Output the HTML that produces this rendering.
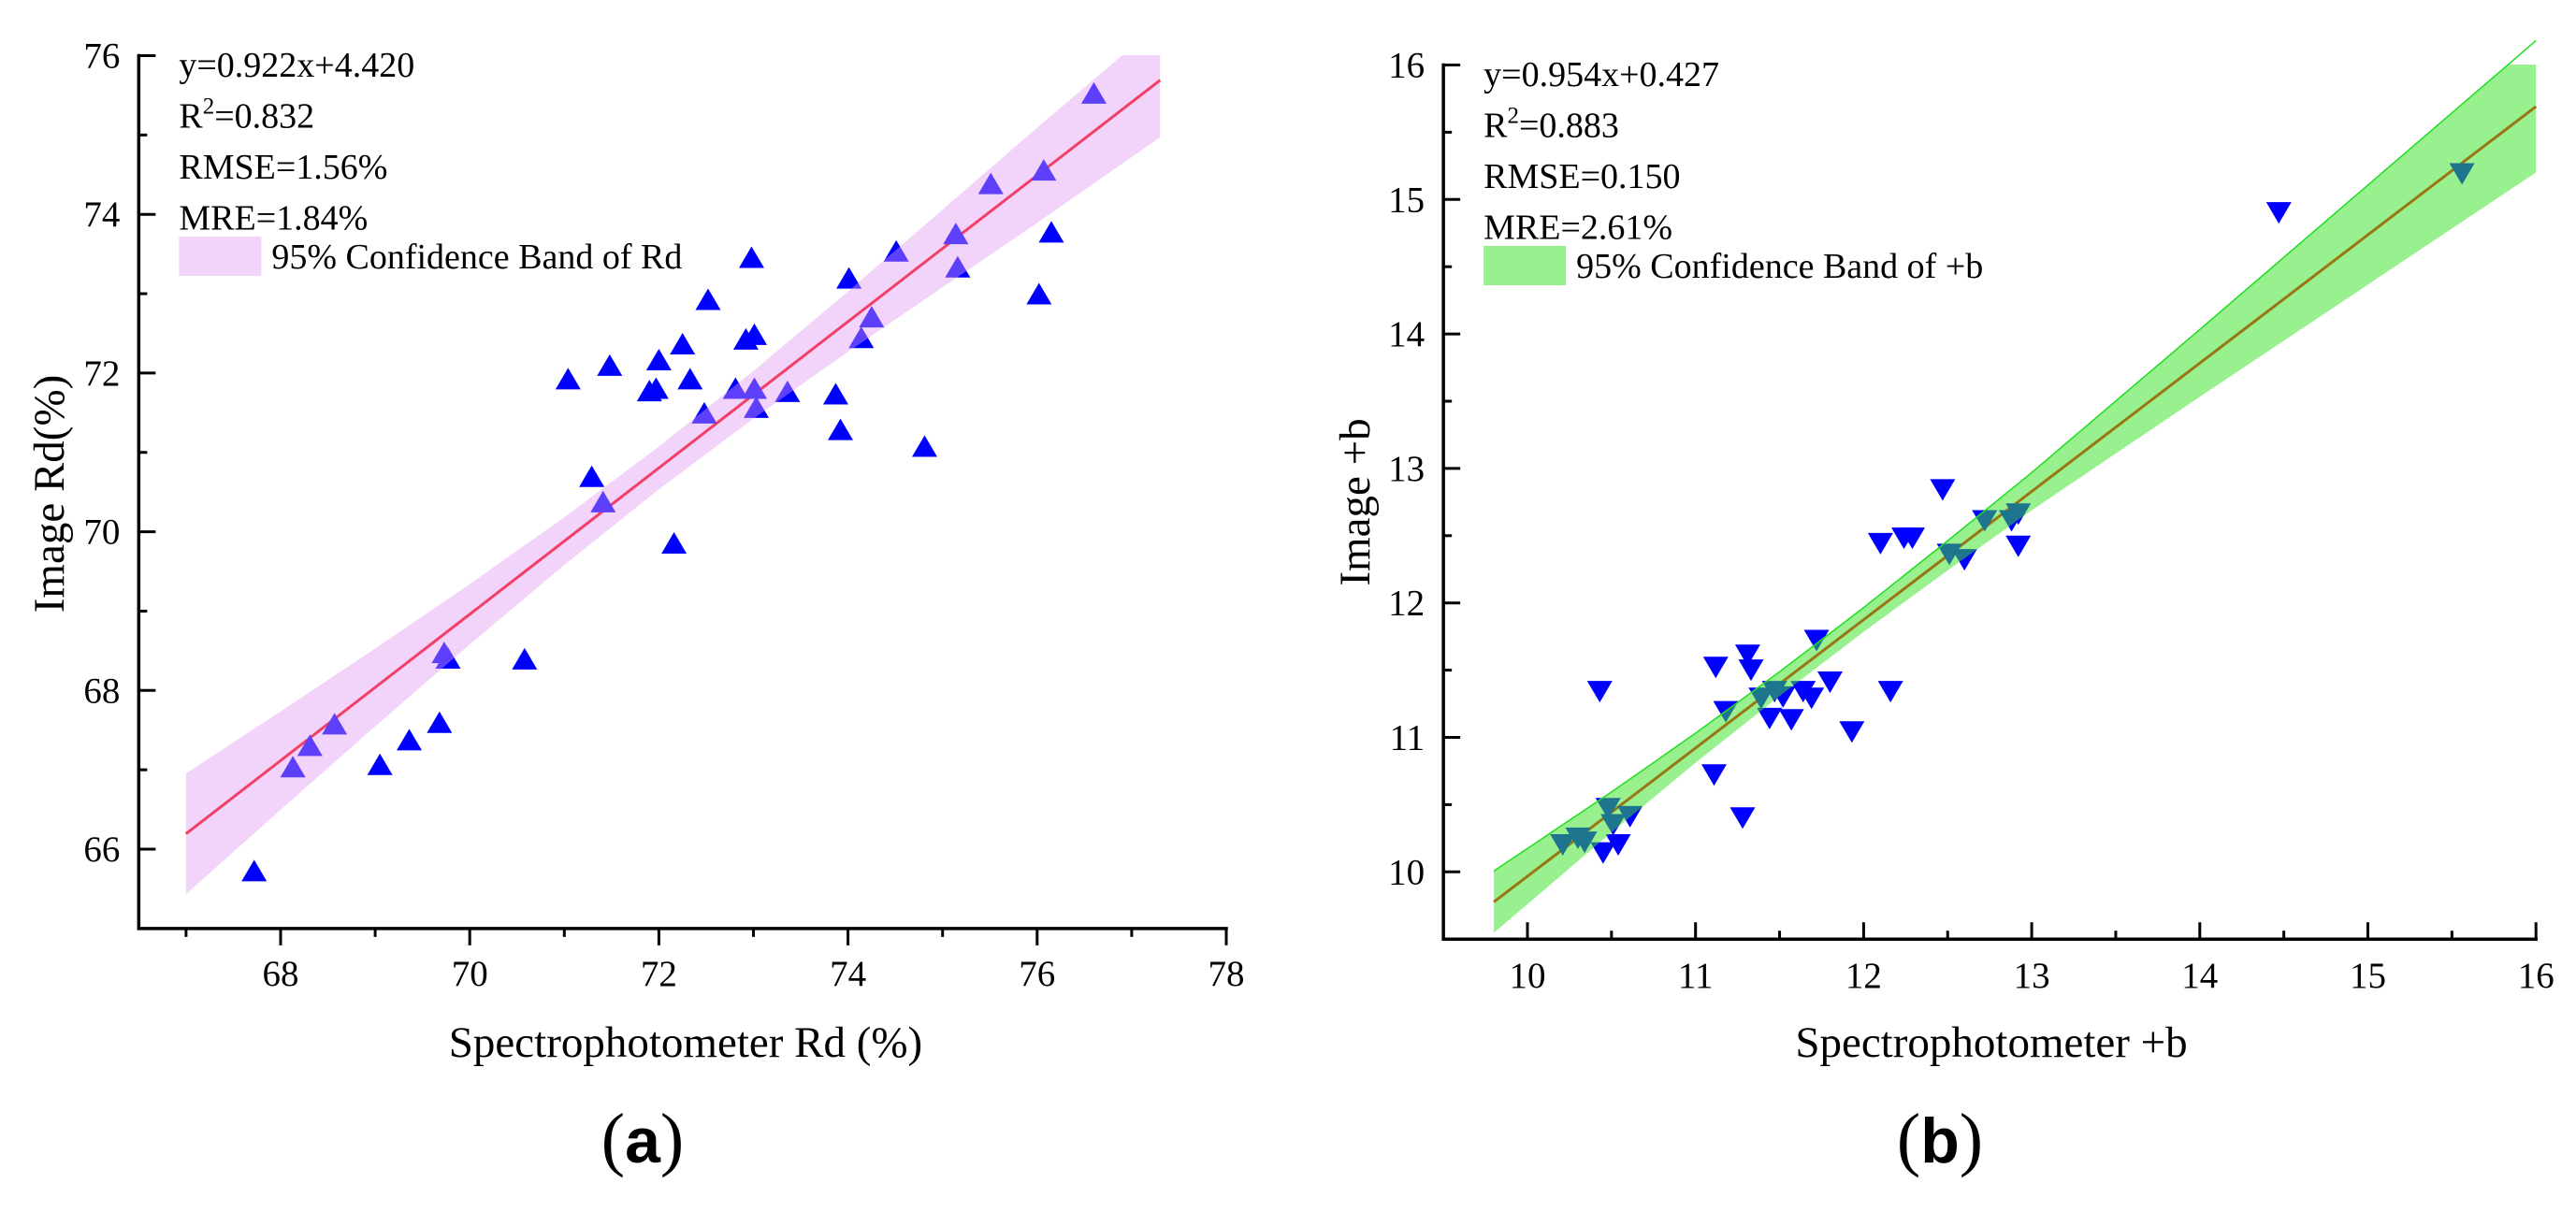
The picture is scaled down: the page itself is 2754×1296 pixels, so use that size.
<!DOCTYPE html>
<html><head><meta charset="utf-8"><style>
html,body{margin:0;padding:0;background:#fff;}
svg{display:block;}
svg text{font-family:"Liberation Serif","DejaVu Serif",serif;}
</style></head><body>
<svg id="fig" width="2754" height="1296" viewBox="0 0 2754 1296" xmlns="http://www.w3.org/2000/svg" font-family="Liberation Serif, serif">
<defs>
<clipPath id="clipA"><rect x="149" y="59" width="1165" height="934"/></clipPath>
<clipPath id="clipB"><rect x="1543" y="69" width="1170" height="936"/></clipPath>
</defs>
<g id="panelA"></g>
<g id="panelB"></g>
</svg>
<script>
// Panel A data
const aX = [67.72,68.13,68.31,68.57,69.05,69.36,69.68,69.73,69.77,70.58,71.04,71.29,71.41,71.48,71.90,71.97,72.00,72.16,72.25,72.33,72.48,72.52,72.81,72.92,72.98,73.01,73.01,73.03,73.36,73.87,73.92,74.01,74.14,74.25,74.51,74.81,75.14,75.16,75.51,76.02,76.07,76.15,76.60];
const aY = [65.73,67.04,67.31,67.58,67.07,67.38,67.60,68.48,68.41,68.40,71.93,70.70,70.38,72.10,71.78,71.81,72.17,69.86,72.37,71.93,71.50,72.93,71.81,72.43,73.46,72.49,71.81,71.57,71.77,71.74,71.29,73.20,72.45,72.71,73.54,71.08,73.76,73.34,74.39,73.00,74.56,73.78,75.53];
const aFit = [0.922, 4.420];
const aBandX = [67,68,69,70,71,72,73,74,75,76,77.3];
const aBandHW = [0.76,0.62,0.49,0.38,0.30,0.27,0.30,0.38,0.49,0.60,0.72];
const aXTicks = [68,70,72,74,76,78];
const aYTicks = [66,68,70,72,74,76];
const aStats = ["y=0.922x+4.420","R2=0.832","RMSE=1.56%","MRE=1.84%"];
// Panel B data
const bX = [10.21,10.30,10.34,10.43,10.45,10.48,10.51,10.54,10.61,11.11,11.12,11.18,11.28,11.31,11.33,11.39,11.44,11.47,11.52,11.57,11.64,11.69,11.72,11.80,11.93,12.10,12.16,12.24,12.29,12.47,12.51,12.60,12.72,12.88,12.92,12.92,14.47,15.56];
const bY = [10.20,10.25,10.22,11.34,10.14,10.47,10.35,10.20,10.41,10.72,11.52,11.19,10.40,11.61,11.50,11.29,11.14,11.34,11.30,11.13,11.34,11.29,11.72,11.41,11.04,12.44,11.34,12.48,12.48,12.84,12.36,12.32,12.61,12.61,12.66,12.42,14.90,15.19];
const bFit = [0.954, 0.427];
const bBandX = [9.8,10.5,11,11.5,12,12.5,13,14,15,16];
const bBandHW = [0.23,0.15,0.11,0.09,0.09,0.11,0.14,0.25,0.37,0.49];
const bXTicks = [10,11,12,13,14,15,16];
const bYTicks = [10,11,12,13,14,15,16];
const bStats = ["y=0.954x+0.427","R2=0.883","RMSE=0.150","MRE=2.61%"];

const NS = "http://www.w3.org/2000/svg";
const SERIF = "Liberation Serif, DejaVu Serif, serif";
function mk(parent, tag, attrs, text){
  const e = document.createElementNS(NS, tag);
  for (const k in attrs) e.setAttribute(k, attrs[k]);
  if (tag === 'text' && !attrs['font-family']) e.setAttribute('font-family', SERIF);
  if (text !== undefined) e.textContent = text;
  parent.appendChild(e);
  return e;
}

function drawPanel(cfg){
  const g = document.getElementById(cfg.id);
  const sx = v => cfg.x0px + (v - cfg.x0v) * cfg.xu;
  const sy = v => cfg.y0px - (v - cfg.y0v) * cfg.yu;
  const L = sx(cfg.xmin), R = sx(cfg.xmax), T = sy(cfg.ymax), B = sy(cfg.ymin);
  const x1 = cfg.bandX[0], x2 = cfg.bandX[cfg.bandX.length-1];
  const line = mk(g, 'line', {x1:sx(x1), y1:sy(cfg.fit[0]*x1+cfg.fit[1]), x2:sx(x2), y2:sy(cfg.fit[0]*x2+cfg.fit[1]), stroke:'#ff0000', 'stroke-width':3});
  
  
  const pts = mk(g, 'g', {});
  
  
  cfg.px.forEach((v, i) => {
    const cx = sx(v), cy = sy(cfg.py[i]);
    const d = cfg.down
      ? `M${cx-13.5},${cy-11.5} L${cx+13.5},${cy-11.5} L${cx},${cy+11.5} Z`
      : `M${cx-13.5},${cy+11.5} L${cx+13.5},${cy+11.5} L${cx},${cy-11.5} Z`;
    const p = mk(pts, 'path', {d:d, fill:'#0000ff'});
    
    
  });
  let up = [], lo = [];
  cfg.bandX.forEach((v, i) => {
    const m = cfg.fit[0]*v + cfg.fit[1];
    up.push(sx(v)+','+sy(m+cfg.bandHW[i]));
    lo.push(sx(v)+','+sy(m-cfg.bandHW[i]));
  });
  const band = mk(g, 'polygon', {points: up.concat(lo.slice().reverse()).join(' '), fill:cfg.bandColor, 'fill-opacity':cfg.bandOp, 'clip-path':'url(#'+cfg.clip+')'});
  
  
  if (cfg.edge){
    const e = mk(g, 'polyline', {points: up.join(' '), fill:'none', stroke:'#22dd22', 'stroke-width':1.5});
    
    
  }
  const ax = mk(g, 'path', {d:`M${L},${T} L${L},${B} L${R},${B}`, fill:'none', stroke:'#000', 'stroke-width':3.5, 'stroke-linecap':'square'});
  
  
  const xdir = cfg.xTickOut ? 1 : -1;
  for (let v = cfg.xminorStart; v <= cfg.xmax + 1e-9; v += cfg.xminor){
    const major = cfg.xTicks.some(t => Math.abs(t - v) < 1e-6);
    const t = mk(g, 'line', {x1:sx(v), y1:B, x2:sx(v), y2:B + xdir*(major?18:9), stroke:'#000', 'stroke-width':3});
    
    
  }
  cfg.xTicks.forEach(v => {
    const t = mk(g, 'text', {x:sx(v), y:cfg.xLabelY, 'font-size':39, 'text-anchor':'middle'}, String(v));
    
    
  });
  for (let v = cfg.yminorStart; v <= cfg.ymax + 1e-9; v += cfg.yminor){
    const major = cfg.yTicks.some(t => Math.abs(t - v) < 1e-6);
    const t = mk(g, 'line', {x1:L, y1:sy(v), x2:L + (major?18:9), y2:sy(v), stroke:'#000', 'stroke-width':3});
    
    
  }
  cfg.yTicks.forEach(v => {
    const t = mk(g, 'text', {x:L-20, y:sy(v)+13, 'font-size':39, 'text-anchor':'end'}, String(v));
    
    
  });
  cfg.stats.forEach((s, i) => {
    const t = mk(g, 'text', {x:L+43, y:cfg.statY + i*54.5, 'font-size':38});
    if (s.startsWith('R2')){
      t.appendChild(document.createTextNode('R'));
      mk(t, 'tspan', {'font-size':25, dy:-15}, '2');
      mk(t, 'tspan', {dy:15}, s.slice(2));
    } else t.textContent = s;
    
    
  });
  const sw = mk(g, 'rect', {x:L+43, y:cfg.statY + 171, width:88, height:42, fill:cfg.bandColor, 'fill-opacity':cfg.bandOp});
  
  
  const lt = mk(g, 'text', {x:L+142, y:cfg.statY + 205, 'font-size':38}, cfg.legend);
  
  
  const xt = mk(g, 'text', {x:cfg.xTitleX, y:1130, 'font-size':47, 'text-anchor':'middle'}, cfg.xTitle);
  
  
  const yt = mk(g, 'text', {x:0, y:0, 'font-size':47, 'text-anchor':'middle', transform:`translate(${cfg.yTitleX},${cfg.yTitleY}) rotate(-90)`}, cfg.yTitle);
  
  
  const pl = mk(g, 'text', {x:cfg.labelX, y:1243, 'font-size':76, 'text-anchor':'middle'});
  mk(pl, 'tspan', {}, '(');
  mk(pl, 'tspan', {'font-weight':'bold', 'font-family':'Liberation Sans, sans-serif', 'font-size':68}, cfg.letter);
  mk(pl, 'tspan', {}, ')');
  
  
}

drawPanel({id:'panelA', clip:'clipA', x0px:300, x0v:68, xu:101.1, y0px:908, y0v:66, yu:84.85,
  xmin:66.5, xmax:78, ymin:65, ymax:76, xminor:1, xminorStart:67, yminor:1, yminorStart:66,
  xTicks:aXTicks, yTicks:aYTicks, xTickOut:true, xLabelY:1054,
  px:aX, py:aY, down:false, fit:aFit, bandX:aBandX, bandHW:aBandHW,
  bandColor:'#e196f2', bandOp:0.42, edge:false, stats:aStats, statY:82,
  legend:'95% Confidence Band of Rd', xTitle:'Spectrophotometer Rd (%)', xTitleX:733,
  yTitle:'Image Rd(%)', yTitleX:68, yTitleY:528, labelX:687, letter:'a'});
drawPanel({id:'panelB', clip:'clipB', x0px:1633, x0v:10, xu:179.7, y0px:932.3, y0v:10, yu:143.8,
  xmin:9.5, xmax:16, ymin:9.5, ymax:16, xminor:0.5, xminorStart:10, yminor:0.5, yminorStart:10,
  xTicks:bXTicks, yTicks:bYTicks, xTickOut:false, xLabelY:1056,
  px:bX, py:bY, down:true, fit:bFit, bandX:bBandX, bandHW:bBandHW,
  bandColor:'#39e226', bandOp:0.52, edge:true, stats:bStats, statY:92,
  legend:'95% Confidence Band of +b', xTitle:'Spectrophotometer +b', xTitleX:2129,
  yTitle:'Image +b', yTitleX:1464, yTitleY:537, labelX:2074, letter:'b'});
</script>
</body></html>
